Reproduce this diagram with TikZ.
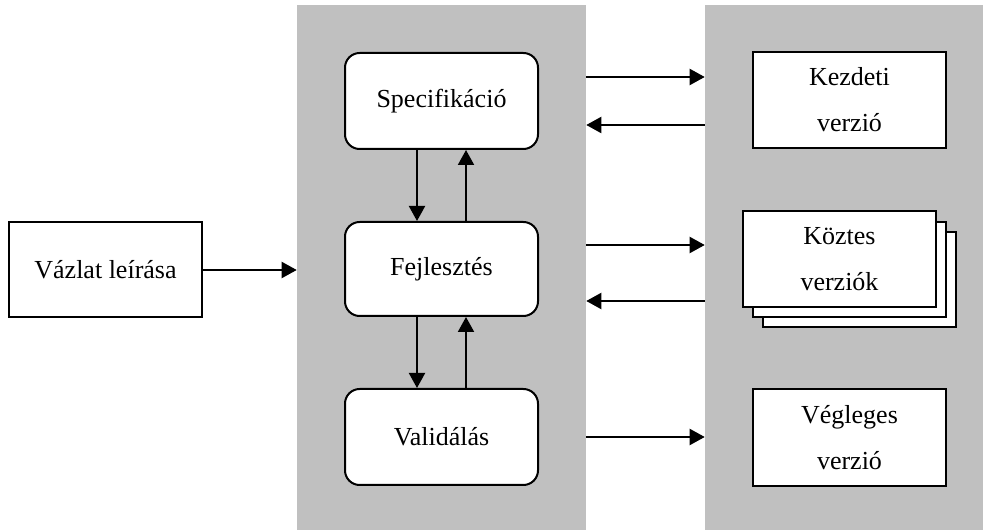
\documentclass[tikz,border=0pt]{standalone}
\usepackage{fontspec}
\setmainfont{Liberation Serif}
\usetikzlibrary{arrows.meta,calc}
\definecolor{panelgray}{HTML}{C0C0C0}
\tikzset{
  panel/.style={rectangle, fill=panelgray, draw=none, inner sep=0pt},
  box/.style={rectangle, draw=black, fill=white, line width=1.5pt, inner sep=0pt,
    minimum width=144.75pt, minimum height=72pt, align=center,
    font=\fontsize{19.5}{34.5}\selectfont},
  roundbox/.style={box, rounded corners=11pt},
  arr/.style={line width=1.5pt, -{Triangle[length=11.25pt,width=12pt]}},
}
\begin{document}
\begin{tikzpicture}[x=0.75pt,y=-0.75pt]
  \useasboundingbox (0,0) rectangle (983,530);

  % grey background panels
  \node[panel, minimum width=216.75pt, minimum height=393.75pt] (work) at (441.5,267.5) {};
  \node[panel, minimum width=208.5pt, minimum height=393.75pt] (vers) at (844,267.5) {};

  % process steps
  \node[roundbox] (spec) at (441.5,101) {Specifikáció};
  \node[roundbox, minimum height=70.5pt] (fej) at (441.5,269) {Fejlesztés};
  \node[roundbox] (val) at (441.5,437) {Validálás};

  % outline input
  \node[box, minimum height=71.25pt] (vaz) at (105.5,269.5) {Vázlat leírása};

  % versions
  \node[box] (kezd) at (849.5,100) {Kezdeti\\verzió};
  \node[box, minimum height=71.25pt] (kback) at (859.5,279.5) {};
  \node[box, minimum height=71.25pt] (kmid) at (849.5,269.5) {};
  \node[box, minimum height=72pt] (kfront) at (839.5,259) {Köztes\\verziók};
  \node[box, minimum height=72.75pt] (veg) at (849.5,437.5) {Végleges\\verzió};

  % arrows between the steps
  \draw[arr] ($(spec.south)+(-24.5,0)$) -- ($(fej.north)+(-24.5,0)$);
  \draw[arr] ($(fej.north)+(24.5,0)$) -- ($(spec.south)+(24.5,0)$);
  \draw[arr] ($(fej.south)+(-24.5,0)$) -- ($(val.north)+(-24.5,0)$);
  \draw[arr] ($(val.north)+(24.5,0)$) -- ($(fej.south)+(24.5,0)$);

  % input arrow
  \draw[arr] (vaz.east |- 0,270) -- (work.west |- 0,270);

  % arrows between the panels
  \draw[arr] (work.east |- 0,77) -- (vers.west |- 0,77);
  \draw[arr] (vers.west |- 0,125) -- (work.east |- 0,125);
  \draw[arr] (work.east |- 0,245) -- (vers.west |- 0,245);
  \draw[arr] (vers.west |- 0,301) -- (work.east |- 0,301);
  \draw[arr] (work.east |- 0,437) -- (vers.west |- 0,437);
\end{tikzpicture}
\end{document}
